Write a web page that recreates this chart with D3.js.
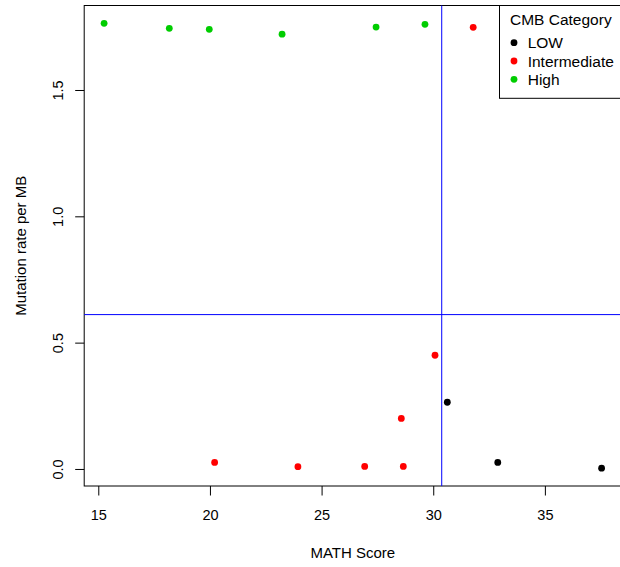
<!DOCTYPE html>
<html><head><meta charset="utf-8">
<script src="https://cdn.jsdelivr.net/npm/d3@7"></script>
<style>body{margin:0;background:#fff}svg{display:block}text{font-family:"Liberation Sans",Arial,Helvetica,sans-serif;fill:#000}</style>
</head><body>
<script>
const categories = ["LOW", "Intermediate", "High"];
const colors = ["#000000", "#FF0000", "#00CD00"];
const mathScore = [15.26, 18.18, 19.97, 23.23, 27.44, 29.63, 31.79, 20.21, 23.94, 26.93, 28.66, 28.57, 30.08, 30.63, 32.89, 37.54];
const mutationRate = [1.764, 1.744, 1.740, 1.721, 1.749, 1.760, 1.748, 0.026, 0.009, 0.010, 0.010, 0.200, 0.450, 0.264, 0.026, 0.003];
const category = ["High","High","High","High","High","High","Intermediate","Intermediate","Intermediate","Intermediate","Intermediate","Intermediate","Intermediate","LOW","LOW","LOW"];
const xTicks = [15, 20, 25, 30, 35];
const yTicks = [0.0, 0.5, 1.0, 1.5];
const vLine = 30.38;
const hLine = 0.611;

const W = 620, H = 567;
const m = {left: 84.2, right: 621.5, top: 5.5, bottom: 486};
const svg = d3.select("body").append("svg").attr("width", W).attr("height", H);

const xExt = d3.extent(mathScore), yExt = d3.extent(mutationRate);
const xPad = (xExt[1]-xExt[0])*0.04, yPad = (yExt[1]-yExt[0])*0.04;
const x = d3.scaleLinear().domain([xExt[0]-xPad, xExt[1]+xPad]).range([m.left, m.right]);
const y = d3.scaleLinear().domain([yExt[0]-yPad, yExt[1]+yPad]).range([m.bottom, m.top]);
const color = d3.scaleOrdinal().domain(categories).range(colors);

// x axis
const xa = svg.append("g").attr("transform", `translate(0,${m.bottom})`)
  .call(d3.axisBottom(x).tickValues(xTicks).tickFormat(d3.format("d")).tickSize(9.5).tickPadding(14.6));
xa.select(".domain").remove();
xa.selectAll("line").attr("stroke", "#000");
xa.selectAll("text").attr("font-size", "14.5px").attr("fill", "#000");

// y axis
const ya = svg.append("g").attr("transform", `translate(${m.left},0)`)
  .call(d3.axisLeft(y).tickValues(yTicks).tickFormat(d3.format(".1f")).tickSize(9).tickPadding(0));
ya.select(".domain").remove();
ya.selectAll("line").attr("stroke", "#000");
ya.selectAll("text").attr("font-size", "14.5px").attr("fill", "#000")
  .attr("text-anchor", "middle").attr("dy", 0)
  .attr("transform", d => `translate(${-21},${0}) rotate(-90)`)
  .attr("x", 0).attr("y", 0);

// box
svg.append("rect").attr("x", m.left).attr("y", m.top)
  .attr("width", m.right - m.left).attr("height", m.bottom - m.top)
  .attr("fill", "none").attr("stroke", "#000").attr("stroke-width", 1);

// reference lines
svg.append("line").attr("x1", x(vLine)).attr("x2", x(vLine)).attr("y1", m.top).attr("y2", m.bottom)
  .attr("stroke", "#0000FF").attr("stroke-width", 1);
svg.append("line").attr("x1", m.left).attr("x2", m.right).attr("y1", y(hLine)).attr("y2", y(hLine))
  .attr("stroke", "#0000FF").attr("stroke-width", 1);

// points
svg.append("g").selectAll("circle").data(mathScore.map((v,i)=>({x:v,y:mutationRate[i],c:category[i]})))
  .join("circle").attr("cx", d=>x(d.x)).attr("cy", d=>y(d.y)).attr("r", 3.4)
  .attr("fill", d=>color(d.c));

// axis labels
svg.append("text").attr("x", (m.left+m.right)/2).attr("y", 558).attr("text-anchor","middle")
  .attr("font-size","15px").text("MATH Score");
svg.append("text").attr("transform", `translate(25.5,${(m.top+m.bottom)/2}) rotate(-90)`)
  .attr("text-anchor","middle").attr("font-size","15px").text("Mutation rate per MB");

// legend
const lg = svg.append("g");
lg.append("rect").attr("x", 499.5).attr("y", m.top).attr("width", m.right-499.5).attr("height", 98.3-m.top)
  .attr("fill","#fff").attr("stroke","#000").attr("stroke-width",1);
lg.append("text").attr("x", 510).attr("y", 24.5).attr("font-size","15.5px").text("CMB Category");
const ly = [42.7, 61, 79.3];
categories.forEach((c,i)=>{
  lg.append("circle").attr("cx",514).attr("cy",ly[i]).attr("r",3.4).attr("fill",color(c));
  lg.append("text").attr("x",527.7).attr("y",ly[i]+5.5).attr("font-size","15.5px").text(c);
});
</script>
</body></html>
